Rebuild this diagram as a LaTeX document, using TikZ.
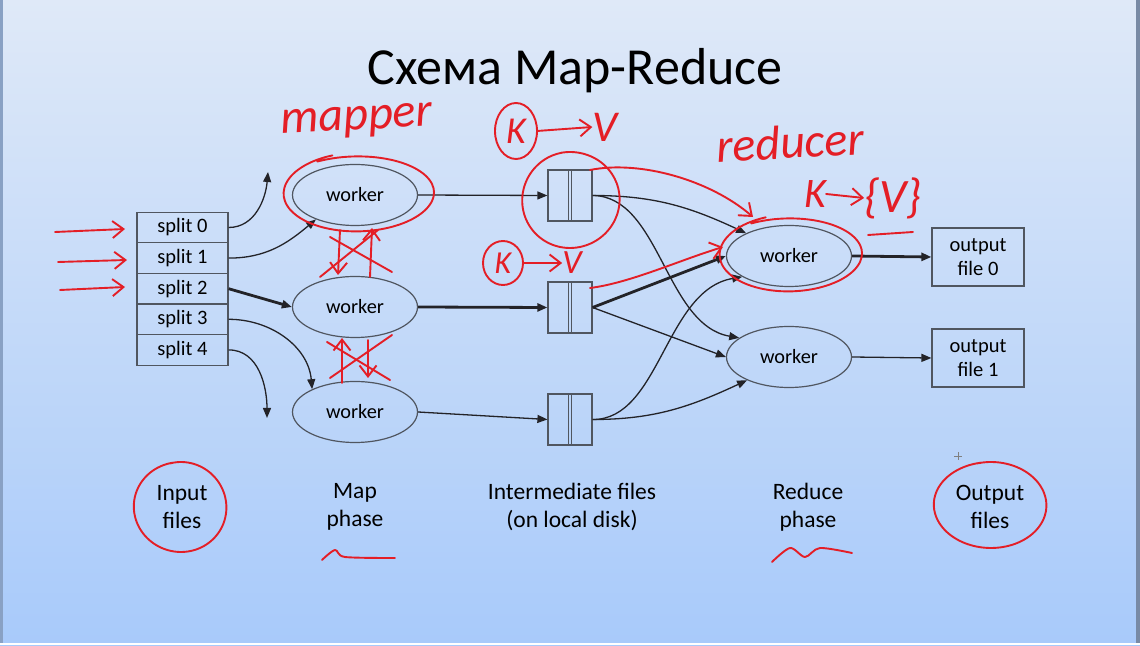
\documentclass[tikz,border=0pt]{standalone}
\usepackage{fontspec}
\setmainfont{Carlito}
\usetikzlibrary{shapes.geometric, arrows.meta, calc}
\definecolor{fundo1}{RGB}{223,233,248}
\definecolor{fundo2}{RGB}{168,202,250}
\definecolor{linha}{RGB}{35,35,40}
\definecolor{borda}{RGB}{80,86,96}
\definecolor{caneta}{RGB}{228,30,38}
\tikzset{
  caixa/.style={draw=borda, line width=1.2pt, minimum width=91pt, minimum height=30.6pt, inner sep=0pt, font=\fontsize{20.5}{22}\selectfont},
  trab/.style={ellipse, draw=borda, line width=1.2pt, minimum width=125pt, minimum height=61pt, inner sep=0pt, font=\fontsize{20.3}{22}\selectfont},
  arq/.style={draw=borda, line width=1.2pt, minimum width=44pt, minimum height=51pt, inner sep=0pt},
  saida/.style={draw=borda, line width=1.2pt, minimum width=92pt, minimum height=58pt, inner sep=0pt, align=center, font=\fontsize{20.5}{24}\selectfont},
  seta/.style={draw=linha, line width=1.3pt, -{Triangle[length=10pt,width=8pt]}},
  grossa/.style={seta, line width=2.8pt},
  rotulo/.style={align=center, font=\fontsize{23.5}{28}\selectfont},
  pena/.style={draw=caneta, line width=1.9pt, line cap=round, line join=round},
  barb/.style={-{Straight Barb[length=11pt,width=17pt]}},
  mao/.style={text=caneta, inner sep=0pt, font=\itshape\fontsize{48}{48}\selectfont},
}
\begin{document}
\begin{tikzpicture}[x=1pt, y=1pt]
    % Fundo
    \shade[top color=fundo1, bottom color=fundo2] (0,0) rectangle (1140,645);
    \fill[borda!35!fundo2] (0,0) rectangle (3,645);
    \fill[borda!55!fundo2] (1136,0) rectangle (1140,645);
    \fill[white] (0,0) rectangle (1140,2);
    \useasboundingbox (0,0) rectangle (1140,645);
    % Titulo
    \node[font=\fontsize{52}{52}\selectfont, anchor=base] (titulo) at (575,560) {Схема Map-Reduce};
    % Arquivos de entrada
    \foreach \i in {0,...,4}
        \node[caixa] (s\i) at (182.5,{417.5-30.6*\i}) {split \i};
    % Fase map
    \node[trab] (m0) at (355,450) {worker};
    \node[trab] (m1) at (355,338) {worker};
    \node[trab] (m2) at (355,233) {worker};
    % Arquivos intermediarios
    \foreach \i/\y in {0/449.5, 1/337.5, 2/225.5} {
        \node[arq] (f\i) at (570,\y) {};
        \draw[borda, line width=1.1pt] ([xshift=-1.8pt]f\i.north) -- ([xshift=-1.8pt]f\i.south);
        \draw[borda, line width=1.1pt] ([xshift=1.8pt]f\i.north) -- ([xshift=1.8pt]f\i.south);
    }
    % Fase reduce
    \node[trab] (r0) at (789,389) {worker};
    \node[trab] (r1) at (789,288) {worker};
    % Arquivos de saida
    \node[saida] (o0) at (978,388) {output\\file 0};
    \node[saida] (o1) at (978,287) {output\\file 1};
    % Rotulos
    \node[rotulo] (lin) at (182,138) {Input\\files};
    \node[rotulo] (lmap) at (355,138) {Map\\phase};
    \node[rotulo] (lint) at (572,138) {Intermediate files\\(on local disk)};
    \node[rotulo] (lred) at (808,138) {Reduce\\phase};
    \node[rotulo] (lout) at (990,138) {Output\\files};
    % Setas
    \coordinate (c0) at (268,473);
    \coordinate (c4) at (267,227);
    \draw[seta] (s0.east) to[out=0, in=-95] (c0);
    \draw[seta] (s1.east) to[out=0, in=-140] (m0.212);
    \draw[grossa] (s2.east) -- (m1.west);
    \draw[seta] (s3.east) to[out=0, in=95] (m2.152);
    \draw[seta] (s4.east) to[out=0, in=90] (c4);
    \draw[seta] (m0.east) -- (f0.west);
    \draw[grossa] (m1.east) -- (f1.west);
    \draw[seta] (m2.east) -- (f2.west);
    \draw[seta] (f0.east) to[out=0, in=155] (r0.152);
    \draw[seta] (f0.east) .. controls (660,449) and (665,320) .. (r1.159);
    \draw[grossa] (f1.east) -- (r0.west);
    \draw[seta] (f1.east) -- (r1.west);
    \draw[seta] (f2.east) .. controls (660,225) and (665,355) .. (r0.204);
    \draw[seta] (f2.east) to[out=0, in=205] (r1.209);
    \draw[grossa] (r0.east) -- (o0.west);
    \draw[seta] (r1.east) -- (o1.west);
    % Anotacoes a mao
    \draw[pena, barb] (55,413) -- (125,416);
    \draw[pena, barb] (58,383) -- (127,385);
    \draw[pena, barb] (60,355) -- (125,358);
    \node[mao, rotate=3] (tmap) at (357,523) {mapper};
    \node[mao, rotate=3] (tred) at (790,503) {reducer};
    \draw[pena] plot[smooth, samples=60, domain=110:480]
        ({357+(72+0.02*(\x-110))*cos(\x)}, {452+(40-0.01*(\x-110))*sin(\x)});
    \draw[pena] plot[smooth, samples=60, domain=110:480]
        ({789+(68+0.02*(\x-110))*cos(\x)}, {391+(39-0.01*(\x-110))*sin(\x)});
    % setas cortadas
    \draw[pena, barb] (340,415) -- (338,370);
    \draw[pena, barb] (370,368) -- (372,417);
    \draw[pena] (330,408) -- (392,373);
    \draw[pena] (320,368) -- (378,415);
    \draw[pena, barb] (342,262) -- (342,307);
    \draw[pena, barb] (368,305) -- (368,267);
    \draw[pena] (327,303) -- (390,265);
    \draw[pena] (330,267) -- (392,310);
    % K -> V
    \node[mao, font=\itshape\fontsize{38}{38}\selectfont] (k1) at (516,514) {K};
    \node[mao, font=\itshape\fontsize{44}{44}\selectfont] (v1) at (605,518) {V};
    \draw[pena] (516,514) ellipse [x radius=21, y radius=28];
    \draw[pena, barb] ([xshift=21pt]k1.center) -- (v1.west);
    \node[mao, font=\itshape\fontsize{32}{32}\selectfont] (k2) at (503,382) {K};
    \node[mao, font=\itshape\fontsize{34}{34}\selectfont] (v2) at (572,382) {V};
    \draw[pena] (503,382) ellipse [x radius=20, y radius=22];
    \draw[pena, barb] ([xshift=20pt]k2.center) -- (v2.west);
    \draw[pena] plot[smooth, samples=60, domain=100:460]
        ({570+(47+0.01*(\x-100))*cos(\x)}, {445+48*sin(\x)});
    \node[mao, font=\itshape\fontsize{42}{42}\selectfont] (k3) at (815,451) {K};
    \node[mao, font=\itshape\fontsize{48}{48}\selectfont] (v3) at (893,447) {\{V\}};
    \draw[pena, barb] (k3.east) -- (v3.west);
    \draw[pena] (868,410) -- (913,413);
    % curvas vermelhas
    \draw[pena, barb] (590,475) .. controls (640,485) and (710,465) .. (753,428);
    \draw[pena, barb] (590,357) .. controls (630,362) and (680,385) .. (723,398);
    % circulos dos rotulos
    \draw[pena] plot[smooth, samples=60, domain=100:465]
        ({181+(48-0.01*(\x-100))*cos(\x)}, {138+45*sin(\x)});
    \draw[pena] plot[smooth, samples=60, domain=100:465]
        ({991+(58-0.01*(\x-100))*cos(\x)}, {140+43*sin(\x)});
    \draw[pena] plot[smooth] coordinates {(322,85) (335,95) (345,88) (395,87)};
    \draw[pena] plot[smooth] coordinates {(772,83) (790,97) (805,88) (820,97) (852,92)};
    % cursor
    \draw[gray, line width=0.8pt] (954,189) -- (962,189) (958,185) -- (958,193);
\end{tikzpicture}
\end{document}
